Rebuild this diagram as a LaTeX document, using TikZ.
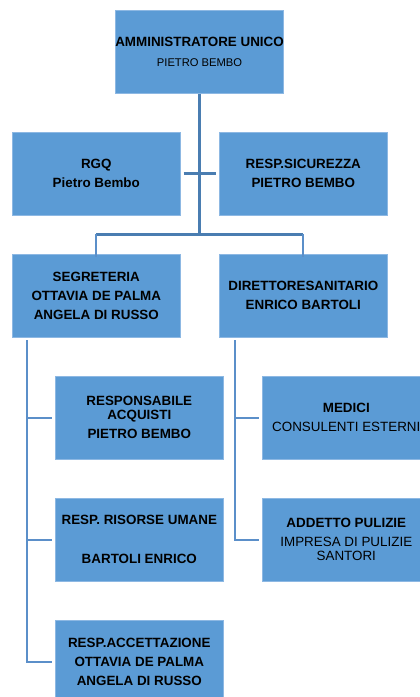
\documentclass[tikz,border=0pt]{standalone}
\usepackage{fontspec}
\setmainfont{Liberation Sans}
\definecolor{boxfill}{HTML}{5B9BD5}
\definecolor{boxedge}{HTML}{8DB8E3}
\definecolor{trunk}{HTML}{4A7DB1}
\definecolor{branch}{HTML}{5B8FC9}
\begin{document}
\begin{tikzpicture}[x=1pt,y=-1pt,
  orgbox/.style={rectangle,fill=boxfill,draw=boxedge,line width=0.6pt,
    minimum width=168pt,minimum height=83pt,inner sep=0pt,align=center,anchor=north west,
    font=\bfseries\fontsize{13.4}{19}\selectfont,text=black},
  trunkline/.style={draw=trunk,line width=3pt},
  branchline/.style={draw=branch,line width=2.4pt}]
\useasboundingbox (0,0) rectangle (420,697);
\clip (0,0) rectangle (420,697);
% boxes
\node[orgbox] (top) at (115,10) {AMMINISTRATORE UNICO\\[1pt]{\mdseries\fontsize{11.2}{13}\selectfont PIETRO BEMBO}};
\node[orgbox] (rgq) at (12,132) {RGQ\\Pietro Bembo};
\node[orgbox] (sic) at (219,132) {RESP.SICUREZZA\\PIETRO BEMBO};
\node[orgbox] (seg) at (12,254) {SEGRETERIA\\OTTAVIA DE PALMA\\ANGELA DI RUSSO};
\node[orgbox] (dir) at (219,254) {DIRETTORESANITARIO\\ENRICO BARTOLI};
\node[orgbox] (acq) at (55,376) {RESPONSABILE\\[-5pt]ACQUISTI\\PIETRO BEMBO};
\node[orgbox] (ris) at (55,498) {RESP. RISORSE UMANE\\[20pt]BARTOLI ENRICO};
\node[orgbox] (acc) at (55,620) {RESP.ACCETTAZIONE\\OTTAVIA DE PALMA\\ANGELA DI RUSSO};
\node[orgbox] (med) at (262,376) {MEDICI\\{\mdseries CONSULENTI ESTERNI}};
\node[orgbox] (pul) at (262,498) {ADDETTO PULIZIE\\{\mdseries IMPRESA DI PULIZIE}\\[-5pt]{\mdseries SANTORI}};
% connectors
\coordinate (bar) at ([yshift=-141pt]top.south);
\coordinate (barL) at (96,234);
\coordinate (barR) at (303,234);
\draw[trunkline] (top.south) -- (bar);
\draw[trunkline] ([xshift=3pt]rgq.east) -- ([xshift=-3pt]sic.west);
\draw[trunkline] (barL) -- (barR);
\draw[branchline] (barL) -- ([yshift=-3pt]barL |- seg.north);
\draw[branchline] (barR) -- ([yshift=-3pt]barR |- dir.north);
\coordinate (spL) at (27,340);
\coordinate (spR) at (235,340);
\draw[branchline] (spL) -- (spL |- acc.west) -- ([xshift=-3pt]acc.west);
\draw[branchline] (spL |- acq.west) -- ([xshift=-3pt]acq.west);
\draw[branchline] (spL |- ris.west) -- ([xshift=-3pt]ris.west);
\draw[branchline] (spR) -- (spR |- pul.west) -- ([xshift=-3pt]pul.west);
\draw[branchline] (spR |- med.west) -- ([xshift=-3pt]med.west);
\end{tikzpicture}
\end{document}
